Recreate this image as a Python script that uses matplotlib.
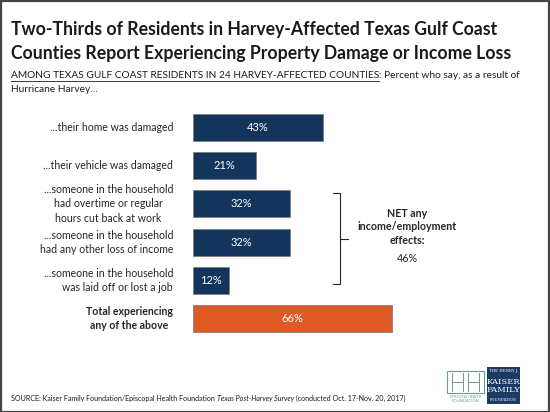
import matplotlib
matplotlib.use("Agg")
import matplotlib.pyplot as plt
from matplotlib.patches import Rectangle

plt.rcParams['font.family'] = ['Lato', 'DejaVu Sans']

labels = ["...their home was damaged",
          "...their vehicle was damaged",
          "...someone in the household\nhad overtime or regular\nhours cut back at work",
          "...someone in the household\nhad any other loss of income",
          "...someone in the household\nwas laid off or lost a job",
          "Total experiencing\nany of the above"]
values = [43, 21, 32, 32, 12, 66]
net_value = 46

navy = "#13355b"
orange = "#e05a26"
colors = [navy] * 5 + [orange]

W, H = 550, 412
fig = plt.figure(figsize=(5.5, 4.12), dpi=100)

def fx(px):
    return px / W

def fy(py):
    return 1 - py / H

# axes placement (pixels)
ax_left, ax_width = 193, 302
ax_top, ax_bottom = 108.4, 337.6
ax = fig.add_axes([fx(ax_left), fy(ax_bottom), ax_width / W, (ax_bottom - ax_top) / H])
pos = list(range(len(values)))
ax.barh(pos, values, height=0.71, color=colors, edgecolor="#7f7f7f", linewidth=0.6)
ax.set_xlim(0, 100)
ax.set_ylim(5.5, -0.5)
ax.axis("off")

for p, v, lab in zip(pos, values, labels):
    ax.text(v / 2, p, f"{v}%", ha="center", va="center", color="white", fontsize=8)
    weight = "bold" if p == len(values) - 1 else "normal"
    ax.text(-6.6, p, lab, ha="right", va="center", fontsize=7.6, color="#262626",
            fontweight=weight, linespacing=1.35,
            multialignment="center" if p in (2, 5) else "right")

# bracket for income/employment rows
bx0, bx1, btip = 46.4, 48.8, 51.2
yt, yb, ym = 1.72, 4.1, 2.93
kw = dict(color="#262626", lw=0.8, clip_on=False)
ax.plot([bx0, bx1, bx1, btip], [yt, yt, ym, ym], **kw)
ax.plot([bx1, bx1, bx0], [ym, yb, yb], **kw)
fig.text(fx(407), fy(227), "NET any\nincome/employment\neffects:", ha="center", va="center",
         fontsize=7.7, fontweight="bold", color="#262626", linespacing=1.3)
fig.text(fx(407), fy(259), f"{net_value}%", ha="center", va="center", fontsize=7.7, color="#262626")

# title
fig.text(fx(11), fy(29), "Two-Thirds of Residents in Harvey-Affected Texas Gulf Coast",
         fontsize=12.7, fontweight="bold", color="#1a1a1a", va="center")
fig.text(fx(11), fy(53), "Counties Report Experiencing Property Damage or Income Loss",
         fontsize=12.7, fontweight="bold", color="#1a1a1a", va="center")

# subtitle
fig.canvas.draw()
r = fig.canvas.get_renderer()
t1 = fig.text(fx(11), fy(78), "AMONG TEXAS GULF COAST RESIDENTS IN 24 HARVEY-AFFECTED COUNTIES",
              fontsize=7.3, color="#1a1a1a", va="baseline")
bb = t1.get_window_extent(renderer=r)
fig.add_artist(plt.Line2D([bb.x0 / W, bb.x1 / W], [(bb.y0 - 0.5) / H] * 2,
                          color="#1a1a1a", lw=0.6, transform=fig.transFigure))
fig.text(bb.x1 / W, fy(78), ": Percent who say, as a result of", fontsize=7.3,
         color="#1a1a1a", va="baseline")
fig.text(fx(11), fy(92), "Hurricane Harvey\u2026", fontsize=7.3, color="#1a1a1a", va="baseline")

# source line with italic piece
x = fx(11)
parts = [("SOURCE: Kaiser Family Foundation/Episcopal Health Foundation ", "normal"),
         ("Texas Post-Harvey Survey", "italic"),
         (" (conducted Oct. 17-Nov. 20, 2017)", "normal")]
for s, st in parts:
    t = fig.text(x, fy(401), s, fontsize=5.1, style=st, color="#1a1a1a", va="baseline")
    e = t.get_window_extent(renderer=r)
    x = e.x1 / W

# logos
green = "#6f9b8a"
fig.add_artist(Rectangle((fx(447), fy(393)), 37 / W, 22 / H, fill=False, ec=green, lw=0.8))
for xx in [452, 463, 468, 479]:
    fig.add_artist(plt.Line2D([fx(xx)] * 2, [fy(391), fy(373)], color=green, lw=0.7))
fig.add_artist(plt.Line2D([fx(452), fx(463)], [fy(382)] * 2, color=green, lw=0.7))
fig.add_artist(plt.Line2D([fx(468), fx(479)], [fy(382)] * 2, color=green, lw=0.7))
fig.text(fx(465.5), fy(397), "EPISCOPAL HEALTH", fontsize=2.4, color=green,
         ha="center", va="center")
fig.text(fx(465.5), fy(401.5), "FOUNDATION", fontsize=3.0, color=green,
         ha="center", va="center")
fig.add_artist(Rectangle((fx(487), fy(404)), 33 / W, 37 / H, color="#1b3a66", lw=0))
fig.text(fx(503.5), fy(371), "THE HENRY J.", fontsize=2.8, color="white", ha="center", va="center",
         family="DejaVu Serif")
fig.text(fx(503.5), fy(386), "KAISER\nFAMILY", fontsize=6, color="white", ha="center", va="center",
         family="DejaVu Serif", linespacing=0.95)
fig.text(fx(503.5), fy(400), "FOUNDATION", fontsize=2.6, color="white", ha="center", va="center",
         family="DejaVu Serif")

# frame
fig.add_artist(Rectangle((0.001, 0.001), 0.997, 0.997, fill=False, ec="#444444", lw=1.6,
                         transform=fig.transFigure))

fig.savefig("out.png", dpi=100)
plt.close(fig)
